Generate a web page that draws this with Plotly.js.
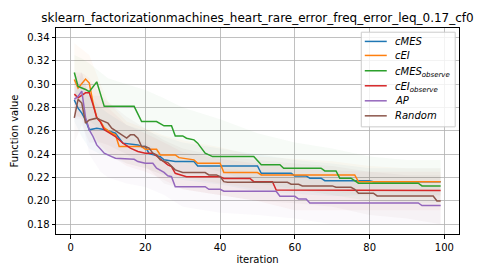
<!DOCTYPE html>
<html><head><meta charset="utf-8">
<script src="https://cdn.plot.ly/plotly-3.0.1.min.js"></script>
<style>html,body{margin:0;padding:0;background:#fff}#chart{width:500px;height:277px}</style>
</head><body><div id="chart"></div>
<script>
// Series names (legend labels)
const seriesNames = ["<i>cMES</i>", "<i>cEI</i>", "<i>cMES<sub>observe</sub></i>", "<i>cEI<sub>observe</sub></i>", "<i>AP</i>", "<i>Random</i>"];

// Mean curves (iteration breakpoints and values)
const cmesX = [1,2,3,4,5,7,9,11,12,14,18,19,20,21,23,24,25,28,33,34,50,51,59,60,63,64,67,68,80,81,99];
const cmesY = [0.2865,0.2795,0.2752,0.2694,0.2609,0.2623,0.2612,0.2594,0.258,0.2495,0.248,0.2466,0.2466,0.2405,0.2385,0.238,0.2352,0.2337,0.2337,0.23,0.23,0.2237,0.2237,0.2214,0.2214,0.2195,0.2195,0.2174,0.2174,0.2165,0.2165];

const ceiX = [1,2,4,5,6,7,8,9,11,12,13,19,20,23,24,28,29,33,34,40,41,50,51,76,77,99];
const ceiY = [0.304,0.2966,0.3044,0.301,0.284,0.2715,0.268,0.2625,0.258,0.2566,0.2466,0.2466,0.2443,0.2443,0.2394,0.2394,0.2371,0.2352,0.2323,0.2323,0.2243,0.2243,0.2223,0.2223,0.2165,0.2165];

const cmesObsX = [1,2,4,5,7,9,17,19,23,25,27,28,30,31,33,34,36,38,49,51,56,57,67,68,71,72,75,77,93,94,99];
const cmesObsY = [0.310,0.298,0.2955,0.2935,0.302,0.281,0.281,0.268,0.268,0.2643,0.2643,0.2557,0.2557,0.2537,0.2523,0.2495,0.2409,0.238,0.238,0.231,0.231,0.228,0.228,0.2257,0.2257,0.2195,0.2195,0.2152,0.2152,0.2129,0.2129];

const ceiObsX = [1,2,4,5,6,7,8,9,12,14,16,18,20,22,23,25,26,27,28,31,40,41,48,49,54,55,99];
const ceiObsY = [0.2915,0.2883,0.2926,0.2926,0.2826,0.2712,0.2675,0.2609,0.2552,0.2495,0.2452,0.2423,0.2409,0.2409,0.2385,0.2337,0.2309,0.2294,0.2237,0.2208,0.2208,0.2192,0.2192,0.2165,0.2165,0.2094,0.209];

const apX = [1,2,3,4,5,6,7,9,11,12,17,18,20,22,23,25,26,27,28,36,37,40,41,55,56,60,61,63,64,93,94,99];
const apY = [0.287,0.2895,0.294,0.2715,0.2609,0.2552,0.248,0.2409,0.238,0.2366,0.2357,0.2337,0.2323,0.2323,0.228,0.2245,0.2215,0.2208,0.2122,0.2122,0.21,0.21,0.2083,0.2083,0.204,0.204,0.2016,0.2016,0.1983,0.1983,0.196,0.196];

const randX = [1,2,3,4,5,7,8,10,11,13,15,16,17,18,19,20,21,22,23,24,26,28,29,30,36,37,39,40,41,42,58,59,61,62,70,71,75,76,77,81,82,97,98,99];
const randY = [0.2712,0.287,0.2838,0.2666,0.2694,0.2709,0.2694,0.2666,0.2623,0.258,0.2538,0.2566,0.2566,0.2538,0.2466,0.2466,0.2452,0.2409,0.2394,0.2352,0.2329,0.2266,0.2251,0.2243,0.2243,0.2223,0.2223,0.2208,0.2165,0.216,0.216,0.2143,0.2143,0.2129,0.2129,0.2117,0.2117,0.21,0.2066,0.2066,0.2043,0.2043,0.2,0.2];

// Spread bands (estimated), sampled at these iterations
const bandX = [1,3,5,8,10,15,20,25,30,40,50,60,70,80,90,99];
const cmesUp  = [0.305,0.30,0.29,0.28,0.275,0.265,0.26,0.255,0.25,0.245,0.24,0.235,0.232,0.228,0.228,0.228];
const cmesLo  = [0.268,0.255,0.245,0.24,0.238,0.232,0.228,0.222,0.218,0.214,0.208,0.206,0.204,0.205,0.205,0.205];
const ceiUp   = [0.335,0.33,0.325,0.30,0.285,0.268,0.262,0.256,0.252,0.246,0.238,0.236,0.234,0.23,0.228,0.228];
const ceiLo   = [0.275,0.27,0.262,0.248,0.242,0.232,0.228,0.222,0.22,0.215,0.21,0.208,0.208,0.204,0.204,0.204];
const cmesObsUp = [0.325,0.322,0.318,0.31,0.305,0.30,0.295,0.288,0.28,0.27,0.258,0.25,0.245,0.238,0.235,0.235];
const cmesObsLo = [0.295,0.275,0.268,0.262,0.258,0.25,0.243,0.238,0.233,0.225,0.215,0.21,0.205,0.2,0.198,0.198];
const ceiObsUp = [0.31,0.31,0.305,0.29,0.28,0.265,0.258,0.25,0.242,0.236,0.232,0.228,0.226,0.225,0.225,0.225];
const ceiObsLo = [0.272,0.272,0.262,0.245,0.24,0.23,0.225,0.218,0.21,0.205,0.2,0.192,0.192,0.192,0.192,0.192];
const apUp = [0.305,0.31,0.29,0.27,0.262,0.255,0.25,0.24,0.232,0.228,0.225,0.222,0.218,0.215,0.215,0.212];
const apLo = [0.27,0.27,0.24,0.225,0.22,0.215,0.212,0.205,0.195,0.19,0.188,0.185,0.18,0.18,0.18,0.18];
const randUp = [0.29,0.31,0.29,0.29,0.285,0.272,0.262,0.252,0.245,0.238,0.235,0.232,0.23,0.225,0.222,0.222];
const randLo = [0.25,0.265,0.25,0.25,0.248,0.24,0.23,0.215,0.21,0.205,0.2,0.198,0.195,0.188,0.185,0.18];

const xTicks = [0,20,40,60,80,100];
const yTicks = [0.18,0.20,0.22,0.24,0.26,0.28,0.30,0.32,0.34];

const colors = ["#1f77b4","#ff7f0e","#2ca02c","#d62728","#9467bd","#8c564b"];
const fills = ["rgba(31,119,180,0.04)","rgba(255,127,14,0.04)","rgba(44,160,44,0.04)","rgba(214,39,40,0.04)","rgba(148,103,189,0.04)","rgba(140,86,75,0.04)"];

const means = [[cmesX,cmesY],[ceiX,ceiY],[cmesObsX,cmesObsY],[ceiObsX,ceiObsY],[apX,apY],[randX,randY]];
const bands = [[cmesUp,cmesLo],[ceiUp,ceiLo],[cmesObsUp,cmesObsLo],[ceiObsUp,ceiObsLo],[apUp,apLo],[randUp,randLo]];

const traces = [];
bands.forEach((b,i)=>{
  traces.push({x:bandX, y:b[1], type:'scatter', mode:'lines', line:{width:0}, showlegend:false, hoverinfo:'skip'});
  traces.push({x:bandX, y:b[0], type:'scatter', mode:'lines', line:{width:0}, fill:'tonexty', fillcolor:fills[i], showlegend:false, hoverinfo:'skip'});
});
means.forEach((m,i)=>{
  traces.push({x:m[0], y:m[1], type:'scatter', mode:'lines', name:seriesNames[i], showlegend:false, line:{color:colors[i], width:1.5}});
});

// Plot-area geometry (pixels) for the legend box, drawn matplotlib-style
const W = 500, H = 277, PL = 56, PR = 459.3, PT = 28.3, PB = 234;
const px2x = p => (p - PL) / (PR - PL);
const px2y = p => (PB - p) / (PB - PT);
const legRowY = [41.7, 55.7, 71, 86, 101, 116];
const shapes = [{type:'rect', xref:'paper', yref:'paper', x0:px2x(361.5), x1:px2x(455.5), y0:px2y(127), y1:px2y(32.5), fillcolor:'rgba(255,255,255,0.8)', line:{color:'#cccccc', width:1}, layer:'above'}];
const annotations = [];
seriesNames.forEach((n,i)=>{
  shapes.push({type:'line', xref:'paper', yref:'paper', x0:px2x(365), x1:px2x(387), y0:px2y(legRowY[i]), y1:px2y(legRowY[i]), line:{color:colors[i], width:1.5}, layer:'above'});
  annotations.push({xref:'paper', yref:'paper', x:px2x(393.5), y:px2y(legRowY[i] + (n.indexOf('<sub>')>=0 ? 1.5 : 0)), xanchor:'left', yanchor:'middle', text:n, showarrow:false, font:{family:"DejaVu Sans, sans-serif", size:10, color:'#000'}});
});

const font = {family:"DejaVu Sans, sans-serif", size:10, color:"#000"};
const layout = {
  width:W, height:H,
  margin:{l:PL, r:W-PR, t:PT, b:H-PB},
  paper_bgcolor:"#fff", plot_bgcolor:"#fff",
  font:font,
  title:{text:"sklearn_factorizationmachines_heart_rare_error_freq_error_leq_0.17_cf0", font:{family:"DejaVu Sans, sans-serif", size:12, color:"#000"}, x:0.515, xanchor:'center', y:0.934, yanchor:'middle'},
  xaxis:{range:[-3.9,103.9], tickvals:xTicks, ticktext:xTicks.map(String), showline:true, mirror:true, linecolor:"#000", linewidth:1, ticks:'outside', ticklen:3.5, tickcolor:"#000", showgrid:true, gridcolor:"#b0b0b0", gridwidth:0.8, zeroline:false, title:{text:"iteration", font:font, standoff:4}},
  yaxis:{range:[0.1717,0.3481], tickvals:yTicks, ticktext:yTicks.map(v=>v.toFixed(2)), showline:true, mirror:true, linecolor:"#000", linewidth:1, ticks:'outside', ticklen:3.5, tickcolor:"#000", showgrid:true, gridcolor:"#b0b0b0", gridwidth:0.8, zeroline:false, title:{text:"Function value", font:font, standoff:6}},
  shapes:shapes,
  annotations:annotations,
  showlegend:false
};
Plotly.newPlot('chart', traces, layout, {staticPlot:true, displayModeBar:false});
</script>
</body></html>
